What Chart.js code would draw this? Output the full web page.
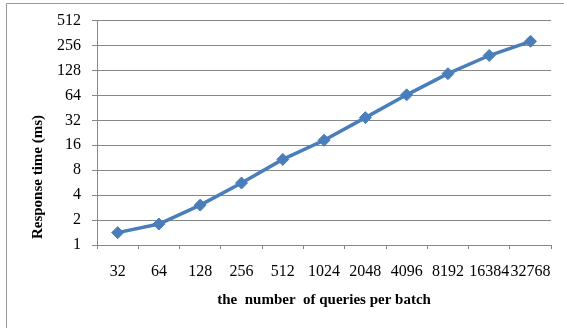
<!DOCTYPE html>
<html>
<head>
<meta charset="utf-8">
<script src="https://cdn.jsdelivr.net/npm/chart.js@4"></script>
<style>
html,body{margin:0;padding:0;background:#fff;}
#wrap{position:relative;width:564px;height:328px;}
</style>
</head>
<body>
<div id="wrap"><canvas id="c" width="564" height="328"></canvas></div>
<script>
const categories = ['32','64','128','256','512','1024','2048','4096','8192','16384','32768'];
const responseTime = [1.41, 1.79, 3.03, 5.6, 10.8, 18.4, 34.5, 65, 117, 194, 288];
const yTicks = [1, 2, 4, 8, 16, 32, 64, 128, 256, 512];
const xTitle = 'the  number  of queries per batch';
const yTitle = 'Response time (ms)';

const FONT = "'Liberation Serif', 'Times New Roman', serif";

const framePlugin = {
  id: 'frame',
  beforeDraw(chart) {
    const ctx = chart.ctx;
    ctx.save();
    ctx.strokeStyle = '#9a9a9a';
    ctx.lineWidth = 1;
    ctx.beginPath();
    ctx.moveTo(6.5, 328);
    ctx.lineTo(6.5, 3.5);
    ctx.lineTo(564, 3.5);
    ctx.stroke();
    ctx.restore();
  },
  afterDraw(chart) {
    const ctx = chart.ctx;
    ctx.save();
    ctx.font = "bold 15px " + FONT;
    ctx.fillStyle = '#000';
    ctx.textAlign = 'center';
    ctx.textBaseline = 'middle';
    ctx.translate(38, 177);
    ctx.rotate(-Math.PI / 2);
    ctx.fillText(yTitle, 0, 0);
    ctx.restore();
  }
};

new Chart(document.getElementById('c'), {
  type: 'line',
  data: {
    labels: categories,
    datasets: [{
      data: responseTime,
      borderColor: '#4a7ebb',
      backgroundColor: '#4a7ebb',
      borderWidth: 3.5,
      pointStyle: 'rectRot',
      pointRadius: 6,
      pointHoverRadius: 6,
      pointBorderWidth: 1,
      tension: 0,
      fill: false
    }]
  },
  options: {
    responsive: false,
    animation: false,
    events: [],
    layout: { padding: { top: 20, right: 11, bottom: 0, left: 0 } },
    plugins: { legend: { display: false }, tooltip: { enabled: false } },
    scales: {
      x: {
        type: 'category',
        offset: true,
        grid: { display: true, drawOnChartArea: false, offset: true, tickLength: 4, color: '#868686' },
        border: { display: true, color: '#868686' },
        ticks: { color: '#000', font: { family: FONT, size: 16 }, padding: 13, maxRotation: 0, autoSkip: false },
        title: { display: true, text: xTitle, color: '#000', font: { family: FONT, size: 15, weight: 'bold' }, padding: { top: 0, bottom: 19 } },
        afterFit(scale) { scale.height = 83; }
      },
      y: {
        type: 'logarithmic',
        min: 1,
        max: 512,
        afterBuildTicks(scale) { scale.ticks = yTicks.map(v => ({ value: v })); },
        grid: { color: '#868686', tickLength: 5 },
        border: { display: true, color: '#868686' },
        ticks: { color: '#000', font: { family: FONT, size: 16 }, padding: 11, callback: v => String(v) },
        afterFit(scale) { scale.width = 97; }
      }
    }
  },
  plugins: [framePlugin]
});
</script>
</body>
</html>
